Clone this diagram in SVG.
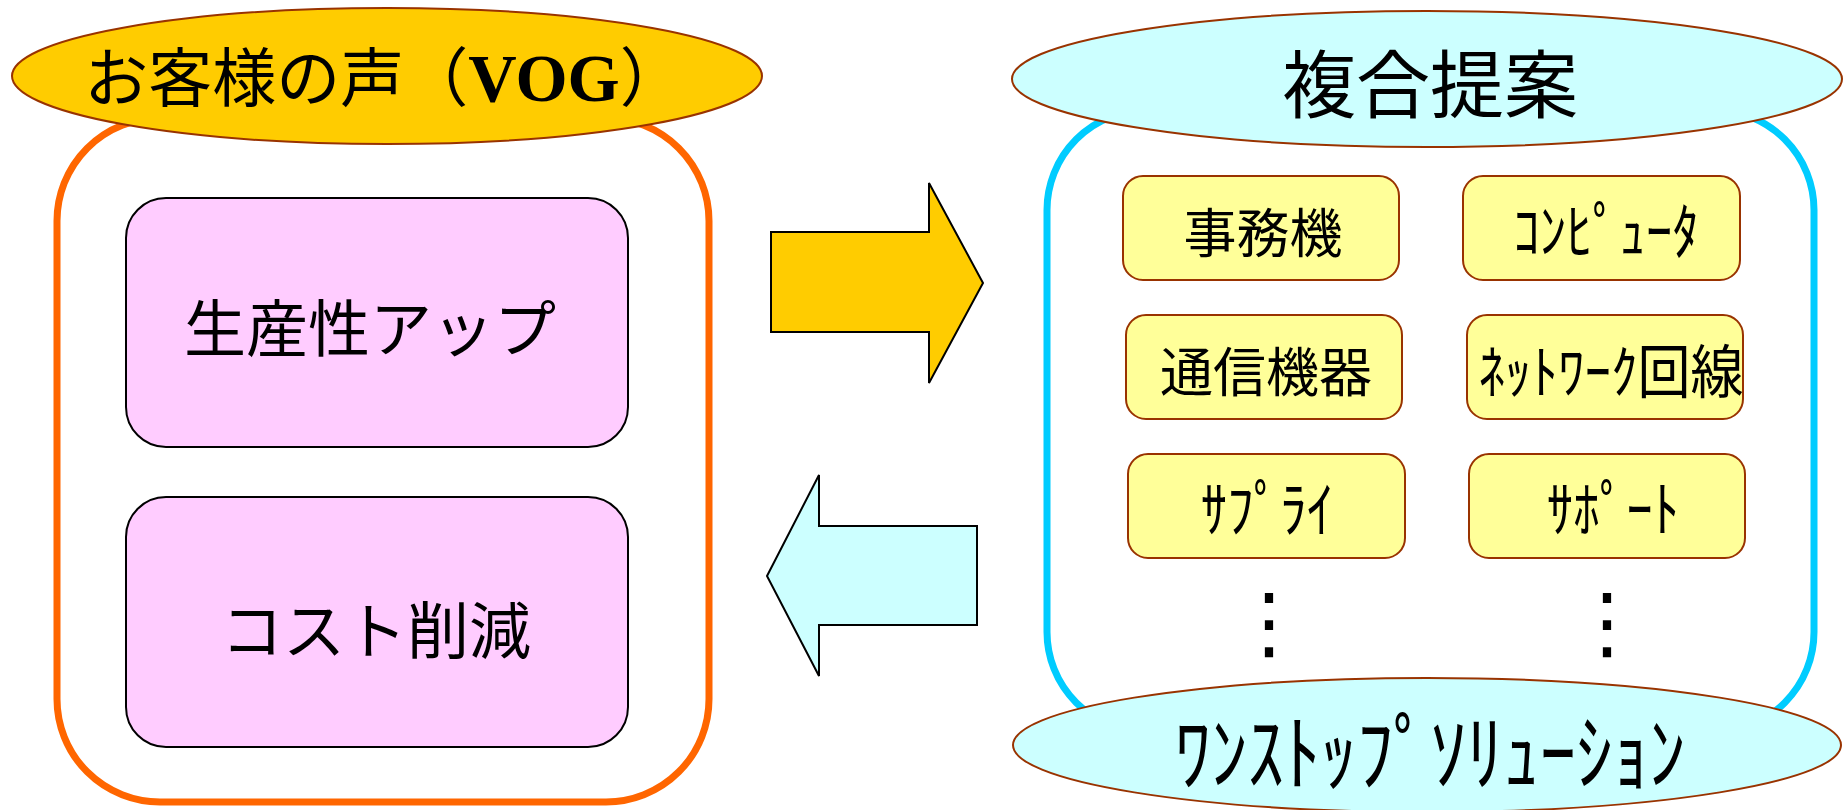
<svg xmlns="http://www.w3.org/2000/svg" width="1843" height="810" viewBox="0 0 1843 810">
  <style>
    .jp { font-family: "Noto Sans CJK JP", "Noto Sans", sans-serif; fill: #000; }
    .pink { fill: #ffccff; stroke: #000; stroke-width: 2; }
    .ybox { fill: #ffff99; stroke: #993300; stroke-width: 2; }
    .ell { stroke: #993300; stroke-width: 2; }
    .arrow { stroke: #000; stroke-width: 2; stroke-linejoin: miter; }
    .dots { font-family: "DejaVu Sans", sans-serif; font-size: 80px; fill: #000; }
  </style>
  <rect width="1843" height="810" fill="#ffffff"/>

  <g id="vog-panel">
    <rect x="57" y="118" width="652" height="684" rx="103" ry="103" fill="none" stroke="#ff6600" stroke-width="7"/>
    <ellipse class="ell" cx="387" cy="76" rx="375" ry="68" fill="#ffcc00"/>
    <text class="jp" x="384" y="101" font-size="64" text-anchor="middle">お客様の声（<tspan font-family="Liberation Serif, serif" font-weight="bold" font-size="67">VOG</tspan>）</text>
  </g>

  <g id="productivity">
    <rect class="pink" x="126" y="198" width="502" height="249" rx="40" ry="40"/>
    <text class="jp" x="370" y="352" font-size="62" text-anchor="middle">生産性アップ</text>
  </g>

  <g id="cost">
    <rect class="pink" x="126" y="497" width="502" height="250" rx="40" ry="40"/>
    <text class="jp" x="376" y="654" font-size="62" text-anchor="middle">コスト削減</text>
  </g>

  <g id="proposal-panel">
    <rect x="1047" y="110" width="767" height="622" rx="100" ry="100" fill="none" stroke="#00ccff" stroke-width="7"/>
    <ellipse class="ell" cx="1427" cy="79" rx="415" ry="68" fill="#ccffff"/>
    <text class="jp" x="1430" y="112" font-size="74" text-anchor="middle">複合提案</text>
  </g>

  <g id="office-machines">
    <rect class="ybox" x="1123" y="176" width="276" height="104" rx="20" ry="20"/>
    <text class="jp" x="1263" y="253" font-size="53" text-anchor="middle">事務機</text>
  </g>
  <g id="computer">
    <rect class="ybox" x="1463" y="176" width="277" height="104" rx="20" ry="20"/>
    <text class="jp" transform="translate(1606,254) scale(1,1.15)" x="0" y="0" font-size="53" text-anchor="middle">ｺﾝﾋﾟｭｰﾀ</text>
  </g>
  <g id="comm-equipment">
    <rect class="ybox" x="1126" y="315" width="276" height="104" rx="20" ry="20"/>
    <text class="jp" x="1266" y="392" font-size="53" text-anchor="middle">通信機器</text>
  </g>
  <g id="network-line">
    <rect class="ybox" x="1467" y="315" width="276" height="104" rx="20" ry="20"/>
    <text class="jp" transform="translate(1611,393) scale(1,1.1)" x="0" y="0" font-size="53" text-anchor="middle">ﾈｯﾄﾜｰｸ回線</text>
  </g>
  <g id="supply">
    <rect class="ybox" x="1128" y="454" width="277" height="104" rx="20" ry="20"/>
    <text class="jp" transform="translate(1267,532) scale(1,1.15)" x="0" y="0" font-size="53" text-anchor="middle">ｻﾌﾟﾗｲ</text>
  </g>
  <g id="support">
    <rect class="ybox" x="1469" y="454" width="276" height="104" rx="20" ry="20"/>
    <text class="jp" transform="translate(1613,532) scale(1,1.15)" x="0" y="0" font-size="53" text-anchor="middle">ｻﾎﾟｰﾄ</text>
  </g>

  <g id="ellipsis-left">
    <text class="dots" x="1269" y="650" text-anchor="middle">⋮</text>
  </g>
  <g id="ellipsis-right">
    <text class="dots" x="1607" y="650" text-anchor="middle">⋮</text>
  </g>

  <g id="one-stop">
    <ellipse class="ell" cx="1427" cy="745" rx="414" ry="67" fill="#ccffff"/>
    <text class="jp" transform="translate(1430,784) scale(1,1.15)" x="0" y="0" font-size="73" text-anchor="middle">ﾜﾝｽﾄｯﾌﾟｿﾘｭｰｼｮﾝ</text>
  </g>

  <g id="connectors">
    <polygon class="arrow" points="771,232 929,232 929,183 983,283 929,383 929,332 771,332" fill="#ffcc00"/>
    <polygon class="arrow" points="767,576 819,475 819,526 977,526 977,625 819,625 819,676" fill="#ccffff"/>
  </g>
</svg>
